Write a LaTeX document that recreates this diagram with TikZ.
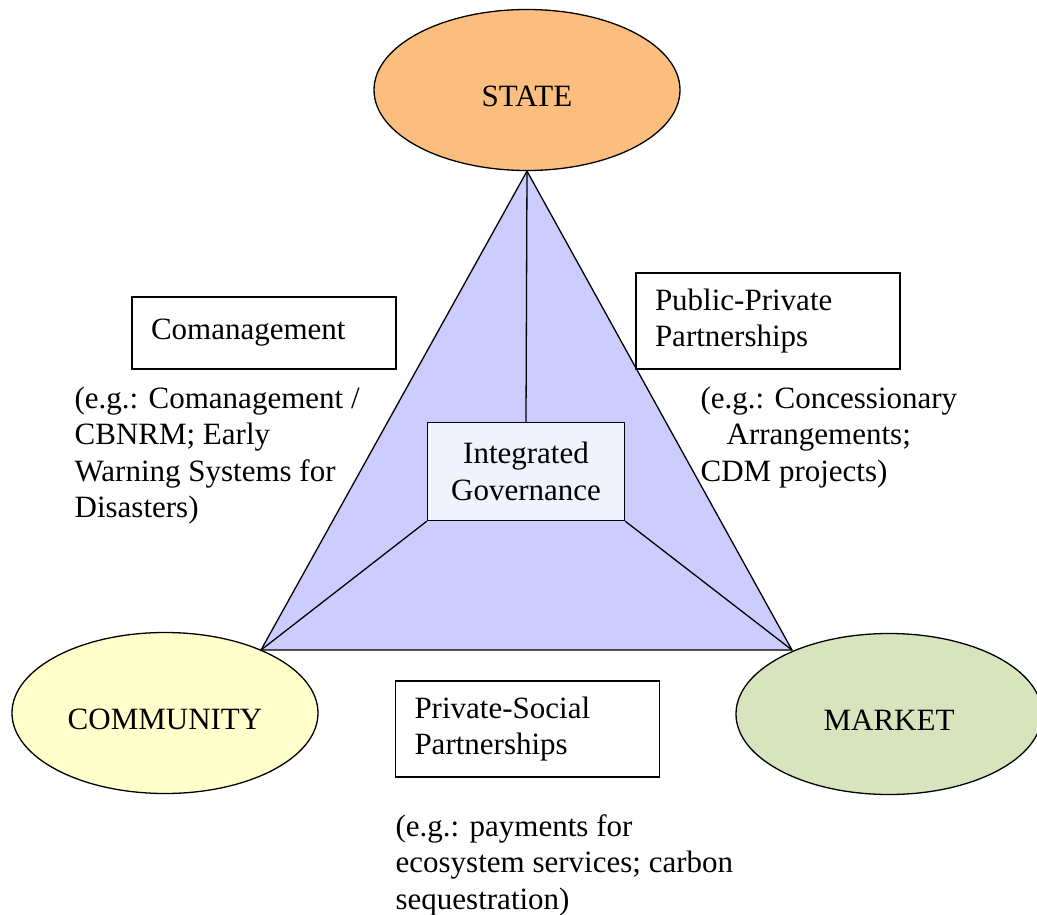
\documentclass[tikz,border=0pt]{standalone}
\usepackage{fontspec}
\setmainfont{Liberation Serif}
\usetikzlibrary{shapes,positioning}
\definecolor{stateorange}{RGB}{251,190,126}
\definecolor{communityyellow}{RGB}{255,255,204}
\definecolor{marketgreen}{RGB}{215,228,189}
\definecolor{trilavender}{RGB}{204,204,255}
\definecolor{govfill}{RGB}{240,243,251}

\begin{document}
\begin{tikzpicture}[x=1pt,y=-1pt,line width=1.3pt,
  font=\fontsize{31}{36.5}\selectfont,
  sector/.style={ellipse,draw,minimum width=306pt,minimum height=161pt,inner sep=0pt,text height=33pt,text depth=0pt},
  tagbox/.style={draw,fill=white,text width=226pt,inner xsep=19pt,inner ysep=0pt,align=left},
  example/.style={anchor=north west,inner sep=0pt,align=left}]
  \useasboundingbox (0,0) rectangle (1037,915);

  \node[sector,fill=stateorange]	(state)     at (527,90)	{STATE};
  \node[sector,fill=communityyellow]	(community) at (165,713)	{COMMUNITY};
  \node[sector,fill=marketgreen]	(market)    at (889,714)	{MARKET};

  \coordinate (left)  at (261,650);
  \coordinate (right) at (792,650);
  \filldraw[fill=trilavender,line join=miter] (state.south) -- (left) -- (right) -- cycle;

  \node[draw,fill=govfill,minimum width=197pt,minimum height=98pt,align=center] (gov) at (526,471.5) {Integrated\\Governance};

  \draw (state.south) -- (gov.north)
        (gov.south west) -- (left)
        (gov.south east) -- (right);

  \node[tagbox,minimum height=72pt]	(comgmt) at (264,333)	{Comanagement};
  \node[tagbox,minimum height=96pt]	(ppp)    at (768,321)	{Public-Private\\Partnerships};
  \node[tagbox,minimum height=96pt]	(psp)    at (527.5,729)	{Private-Social\\Partnerships};

  \node[example] (comgmtex) at (74,386)	{(e.g.: Comanagement /\\CBNRM; Early\\Warning Systems for\\Disasters)};
  \node[example] (pppex)    at (700,386)	{(e.g.: Concessionary\\\hspace*{26pt}Arrangements;\\CDM projects)};
  \node[example] (pspex)    at (395,814)	{(e.g.: payments for\\ecosystem services; carbon\\sequestration)};
\end{tikzpicture}
\end{document}
